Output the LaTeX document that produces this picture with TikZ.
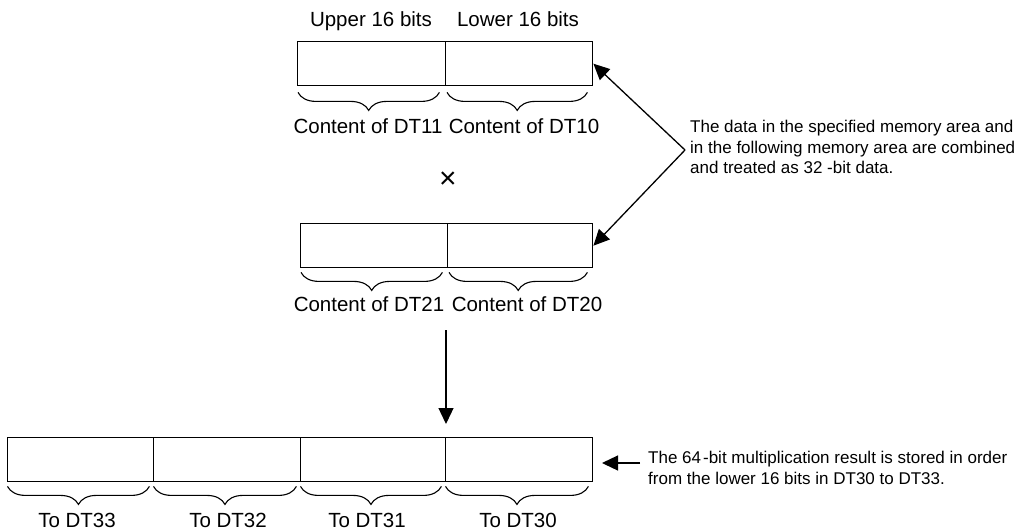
\documentclass[tikz,border=0pt]{standalone}
\usepackage{fontspec}
\setmainfont{Liberation Sans}
\usetikzlibrary{decorations.pathreplacing,arrows.meta}
\begin{document}
\begin{tikzpicture}[x=1pt,y=-1pt,
  cell/.style={draw,line width=1.4pt,inner sep=0pt,anchor=north west,minimum height=44pt},
  brc/.style={decorate,decoration={brace,mirror,amplitude=18pt},line width=1.1pt},
  lbl/.style={anchor=base,inner sep=0pt,font=\fontsize{20.5}{24}\selectfont},
  note/.style={anchor=north west,inner sep=0pt,align=left,font=\fontsize{17}{20.5}\selectfont},
  arr/.style={line width=1.3pt,-{Triangle[length=16pt,width=15pt]}}]
\useasboundingbox (0,0) rectangle (1025,531);
% top register
\node[cell,minimum width=148pt] (t1) at (297,41) {};
\node[cell,minimum width=147pt] (t0) at (445,41) {};
\node[lbl] (up) at (371,26) {Upper 16 bits};
\node[lbl] (lo) at (518,26) {Lower 16 bits};
\draw[brc] ([xshift=1pt,yshift=-6pt]t1.south west) -- ([xshift=-7pt,yshift=-6pt]t1.south east);
\draw[brc] ([xshift=2pt,yshift=-6pt]t0.south west) -- ([xshift=-6pt,yshift=-6pt]t0.south east);
\node[lbl] (c11) at (368,133) {Content of DT11};
\node[lbl] (c10) at (524,133) {Content of DT10};
% multiply sign
\node[inner sep=0pt,font=\fontsize{30}{34}\selectfont] (x) at (448,180) {×};
% middle register
\node[cell,minimum width=147pt] (m1) at (300,223) {};
\node[cell,minimum width=145pt] (m0) at (447,223) {};
\draw[brc] ([xshift=1pt,yshift=-4pt]m1.south west) -- ([xshift=-6pt,yshift=-4pt]m1.south east);
\draw[brc] ([xshift=2pt,yshift=-4pt]m0.south west) -- ([xshift=-6pt,yshift=-4pt]m0.south east);
\node[lbl] (c21) at (369,311) {Content of DT21};
\node[lbl] (c20) at (527,311) {Content of DT20};
% annotation 1
\coordinate (apex) at (685,150);
\node[note] (n1) at (690,120) {The data in the specified memory area and\\in the following memory area are combined\\and treated as 32 -bit data.};
\draw[arr] (apex) -- (t0.east);
\draw[arr] (apex) -- (m0.east);
% bottom register
\node[cell,minimum width=146pt] (b3) at (7,437) {};
\node[cell,minimum width=147pt] (b2) at (153,437) {};
\node[cell,minimum width=145pt] (b1) at (300,437) {};
\node[cell,minimum width=147pt] (b0) at (445,437) {};
\foreach \b in {b3,b2,b1,b0}{
  \draw[brc] ([xshift=0.5pt,yshift=-4pt]\b.south west) -- ([xshift=-5pt,yshift=-4pt]\b.south east);
}
\node[lbl] (d33) at (77,527) {To DT33};
\node[lbl] (d32) at (228,527) {To DT32};
\node[lbl] (d31) at (367,527) {To DT31};
\node[lbl] (d30) at (518,527) {To DT30};
% down arrow
\coordinate (dtop) at (446,330);
\coordinate (dbot) at (446,424);
\draw[arr] (dtop) -- (dbot);
% annotation 2
\node[note] (n2) at (648,451) {The 64\kern2pt-bit multiplication result is stored in order\\from the lower 16 bits in DT30 to DT33.};
\coordinate (a2) at (640,463);
\coordinate (a2t) at (602,463);
\draw[arr] (a2) -- (a2t);
\end{tikzpicture}
\end{document}
